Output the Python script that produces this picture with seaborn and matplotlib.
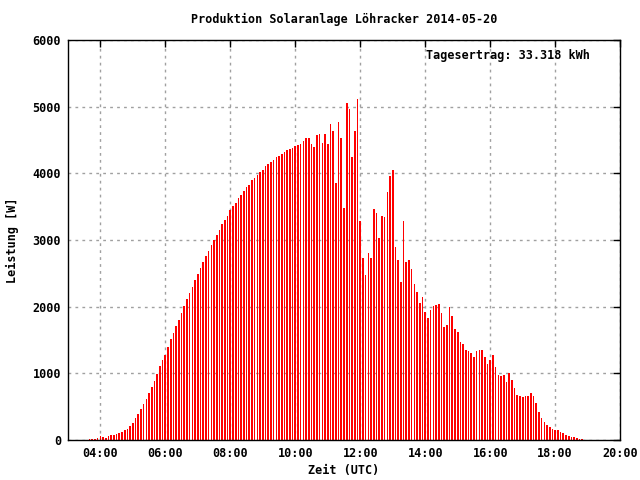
import matplotlib
matplotlib.use("Agg")
import matplotlib.pyplot as plt
import pandas as pd
import seaborn as sns

# 5-minute power readings [W], first sample at 03:40 UTC
start = "2014-05-20 03:40"
watts = [
    15, 15, 15, 30,
    60, 45, 30, 65, 75, 75, 90, 105, 120, 150, 165, 210,
    255, 330, 390, 465, 540, 615, 705, 795, 885, 990, 1110, 1200,
    1275, 1395, 1515, 1605, 1710, 1800, 1905, 2010, 2115, 2205, 2295, 2400,
    2490, 2580, 2670, 2760, 2835, 2925, 3000, 3075, 3150, 3240, 3300, 3360,
    3450, 3510, 3555, 3630, 3675, 3735, 3795, 3825, 3900, 3930, 3975, 4020,
    4050, 4110, 4140, 4170, 4200, 4245, 4260, 4290, 4320, 4350, 4365, 4380,
    4410, 4425, 4440, 4485, 4530, 4530, 4440, 4395, 4575, 4590, 4455, 4590,
    4440, 4740, 4635, 3855, 4770, 4530, 3480, 5055, 4965, 4245, 4635, 5115,
    3285, 2730, 2475, 2805, 2730, 3465, 3405, 3030, 3360, 3345, 3720, 3960,
    4050, 2895, 2700, 2370, 3285, 2670, 2700, 2565, 2340, 2220, 2055, 2145,
    1920, 1830, 1950, 2010, 2025, 2040, 1905, 1695, 1725, 1995, 1860, 1665,
    1620, 1470, 1440, 1350, 1335, 1305, 1245, 1335, 1350, 1350, 1245, 1140,
    1200, 1275, 1095, 975, 960, 975, 870, 1005, 900, 780, 675, 660,
    645, 660, 660, 705, 660, 555, 420, 330, 270, 225, 195, 165,
    150, 150, 120, 105, 75, 60, 45, 45, 30, 15, 15,
]
x_ticks = [4, 6, 8, 10, 12, 14, 16, 18, 20]
x_labels = ["04:00", "06:00", "08:00", "10:00", "12:00", "14:00", "16:00", "18:00", "20:00"]
y_ticks = [0, 1000, 2000, 3000, 4000, 5000, 6000]
title = "Produktion Solaranlage Löhracker 2014-05-20"
yield_text = "Tagesertrag: 33.318 kWh"

times = pd.date_range(start, periods=len(watts), freq="5min")
df = pd.DataFrame({"hour": (times.hour + times.minute / 60).round(4), "watt": watts})

sns.set_style("white")
plt.rcParams["font.family"] = ["DejaVu Sans Mono"]
plt.rcParams["font.weight"] = "bold"
plt.rcParams["font.size"] = 8.5
plt.rcParams["text.color"] = "black"
plt.rcParams["axes.labelcolor"] = "black"

fig, ax = plt.subplots(figsize=(6.4, 4.8), dpi=100)
fig.subplots_adjust(left=0.106, right=0.969, top=0.917, bottom=0.083)

sns.barplot(data=df, x="hour", y="watt", native_scale=True, width=0.6,
            color="#ff0000", saturation=1, linewidth=0, errorbar=None, ax=ax)

ax.set_xlim(3, 20)
ax.set_ylim(0, 6000)
ax.set_xticks(x_ticks, x_labels)
ax.set_yticks(y_ticks)
ax.grid(True, color="#a0a0a0", linestyle=(0, (2, 3)), linewidth=1)
ax.set_axisbelow(True)
ax.tick_params(direction="in", top=True, right=True, length=5, width=1,
               labelsize=8.5, pad=5, colors="black", labelcolor="black")
for s in ax.spines.values():
    s.set_color("black")
    s.set_linewidth(1)
    s.set_visible(True)

ax.set_xlabel("Zeit (UTC)", fontsize=8.5, fontweight="bold", labelpad=3)
ax.set_ylabel("Leistung [W]", fontsize=8.5, fontweight="bold", labelpad=10)
ax.set_title(title, fontsize=8.5, fontweight="bold", pad=12)
ax.text(0.649, 0.96, yield_text, transform=ax.transAxes, ha="left", va="center",
        fontsize=8.5, fontweight="bold")

plt.savefig("out.png", dpi=100)
